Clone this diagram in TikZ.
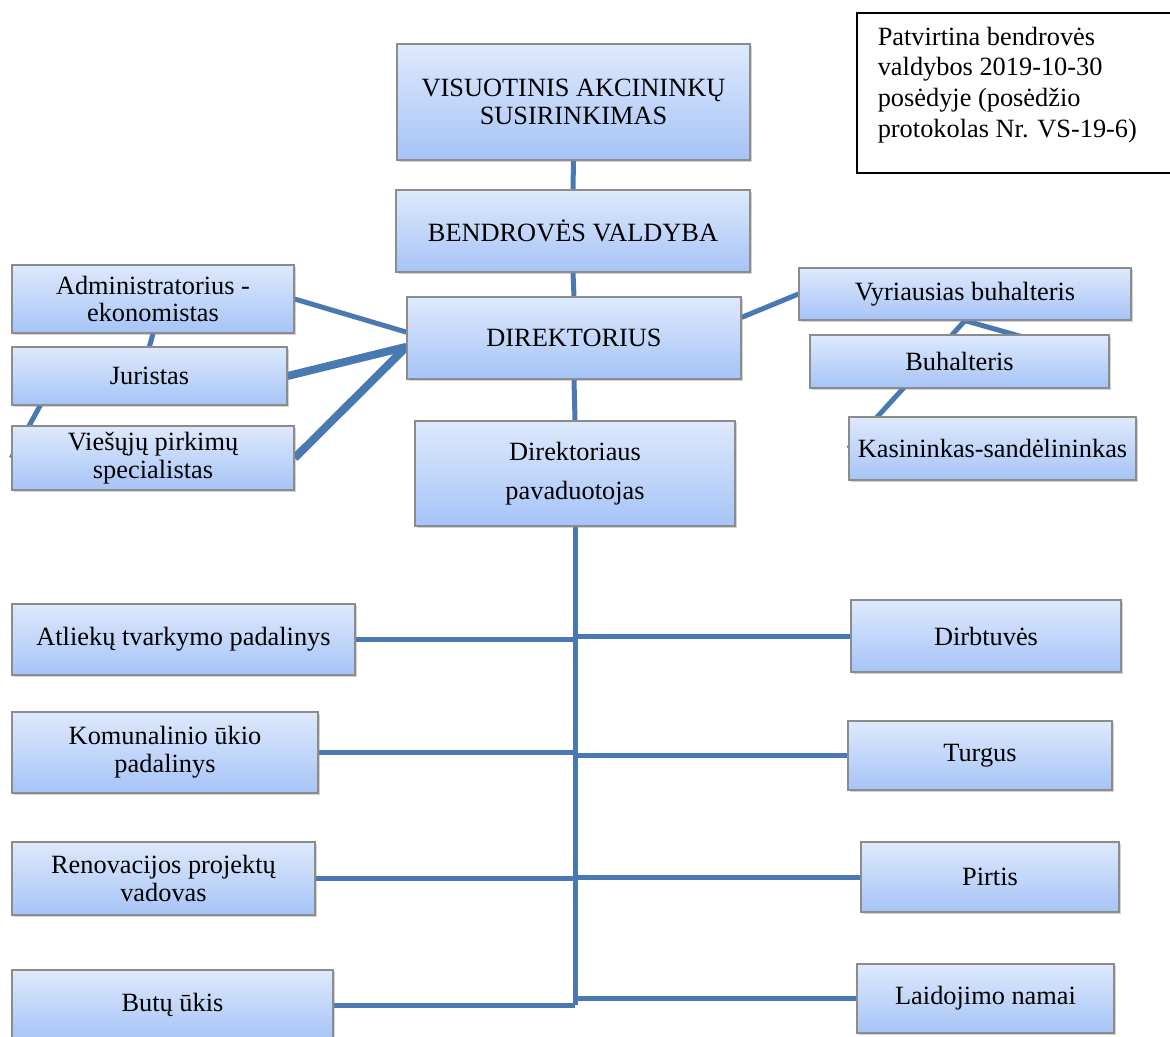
\documentclass[tikz,border=0pt]{standalone}
\usepackage{fontspec}
\setmainfont{Liberation Serif}
\usetikzlibrary{shadows,backgrounds,calc}

\definecolor{linkblue}{RGB}{74,121,178}
\definecolor{boxtop}{RGB}{222,233,252}
\definecolor{boxbottom}{RGB}{166,196,247}
\definecolor{boxline}{RGB}{140,140,140}

\begin{document}
\begin{tikzpicture}[x=0.02cm,y=-0.02cm,
        unit/.style={rectangle,draw=boxline,line width=.7pt,
            top color=boxtop,bottom color=boxbottom,
            drop shadow={shadow xshift=1pt,shadow yshift=-1.3pt,opacity=.35},
            align=center,inner sep=2pt,font=\fontsize{15}{15.8}\selectfont},
        note/.style={rectangle,draw=black,line width=.9pt,fill=white,
            font=\fontsize{15}{17.6}\selectfont},
        link/.style={draw=linkblue,line width=0.1cm},
        thick link/.style={draw=linkblue,line width=0.16cm}]

    \useasboundingbox (0,0) rectangle (1170,1037);

    \node[note] [anchor=north west,inner xsep=0.42cm,inner ysep=0.28cm] (note) at (856,12)
        {\parbox[t][2.64cm][t]{6cm}{Patvirtina bendrovės\\valdybos 2019-10-30\\posėdyje (posėdžio\\protokolas Nr. VS-19-6)}};

    \node[unit] [minimum width=7.06cm,minimum height=2.32cm] (visas) at (573.5,102) {VISUOTINIS AKCININKŲ\\SUSIRINKIMAS};
    \node[unit] [minimum width=7.08cm,minimum height=1.64cm] (valdyba) at (573,231) {BENDROVĖS VALDYBA};
    \node[unit] [minimum width=6.68cm,minimum height=1.64cm] (direkt) at (574,338) {DIREKTORIUS};
    \node[unit] [minimum width=6.4cm,minimum height=2.1cm] (pavad) at (575,473.5) {Direktoriaus\\[6.4pt]pavaduotojas};

    \node[unit] [minimum width=5.64cm,minimum height=1.36cm] (admin) at (153,299) {Administratorius -\\ekonomistas};
    \node[unit] [minimum width=5.5cm,minimum height=1.16cm] (jurist) at (149.5,376) {Juristas};
    \node[unit] [minimum width=5.64cm,minimum height=1.28cm] (viesuju) at (153,458) {Viešųjų pirkimų\\specialistas};

    \node[unit] [minimum width=6.64cm,minimum height=1.04cm] (vyrbuh) at (965,294) {Vyriausias buhalteris};
    \node[unit] [minimum width=5.98cm,minimum height=1.06cm] (buh) at (959.5,361.5) {Buhalteris};
    \node[unit] [minimum width=5.74cm,minimum height=1.26cm] (kasin) at (992.5,448.5) {Kasininkas-sandėlininkas};

    \node[unit] [minimum width=6.86cm,minimum height=1.42cm] (atliek) at (183.5,639.5) {Atliekų tvarkymo padalinys};
    \node[unit] [minimum width=5.4cm,minimum height=1.44cm] (dirbt) at (986,636) {Dirbtuvės};
    \node[unit] [minimum width=6.12cm,minimum height=1.62cm] (komun) at (165,752.5) {Komunalinio ūkio\\padalinys};
    \node[unit] [minimum width=5.28cm,minimum height=1.38cm] (turgus) at (980,755.5) {Turgus};
    \node[unit] [minimum width=6.06cm,minimum height=1.46cm] (renov) at (163.5,878.5) {Renovacijos projektų\\vadovas};
    \node[unit] [minimum width=5.16cm,minimum height=1.4cm] (pirtis) at (990,877) {Pirtis};
    \node[unit] [minimum width=6.42cm,minimum height=1.4cm] (butu) at (172.5,1005) {Butų ūkis};
    \node[unit] [minimum width=5.14cm,minimum height=1.38cm] (laidoj) at (985.5,998.5) {Laidojimo namai};

    \begin{scope}[on background layer]
    \path[link]
    (visas.south) edge (valdyba.north)
    (valdyba.south) edge (direkt.north)
    (direkt.south) edge (pavad.north)
    (pavad.south) edge (pavad.south |- butu.east)
    (admin.east) edge (direkt.178)
    (admin.south) edge (jurist.north)
    ($(jurist.west)+(45,0)$) edge (viesuju.west)
    (direkt.7) edge (vyrbuh.west)
    (vyrbuh.south) edge (buh.east)
    (vyrbuh.south) edge (kasin.west)
    (atliek.east) edge (atliek.east -| pavad.south)
    (dirbt.west) edge (dirbt.west -| pavad.south)
    (komun.east) edge (komun.east -| pavad.south)
    (turgus.west) edge (turgus.west -| pavad.south)
    (renov.east) edge (renov.east -| pavad.south)
    (pirtis.west) edge (pirtis.west -| pavad.south)
    (butu.east) edge (butu.east -| pavad.south)
    (laidoj.west) edge (laidoj.west -| pavad.south)
    ;
    \path[thick link]
    (jurist.east) edge (direkt.183)
    (viesuju.east) edge (direkt.183)
    ;
    \end{scope}
\end{tikzpicture}
\end{document}
